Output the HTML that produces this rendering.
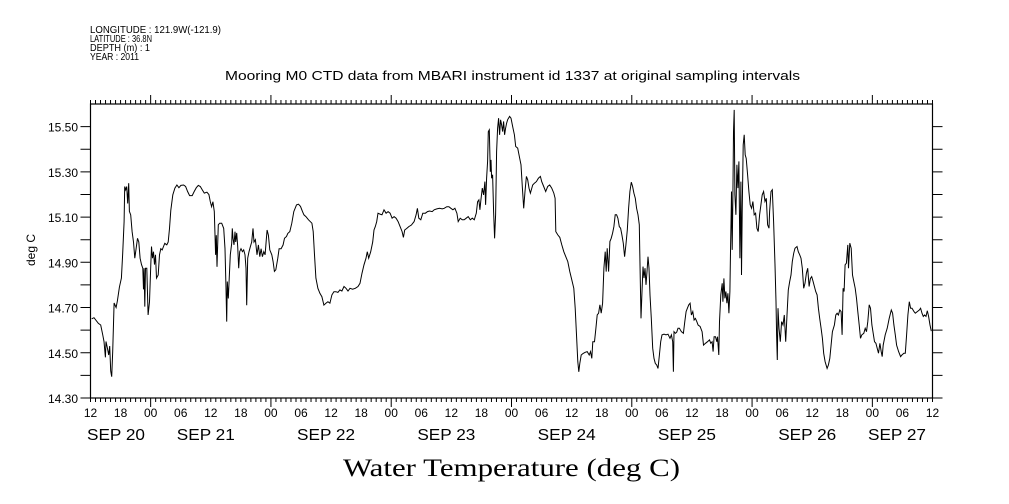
<!DOCTYPE html>
<html><head><meta charset="utf-8"><style>
body{margin:0;background:#fff;}
svg{display:block;font-family:"Liberation Sans",sans-serif;}
</style></head><body>
<svg id="chart" width="1009" height="504" viewBox="0 0 1009 504" xmlns="http://www.w3.org/2000/svg">
<rect x="0" y="0" width="1009" height="504" fill="#fff"/>
<g font-size="10.5" fill="#000">
<text x="90" y="33" textLength="131" lengthAdjust="spacingAndGlyphs">LONGITUDE : 121.9W(-121.9)</text>
<text x="90" y="42" textLength="62" lengthAdjust="spacingAndGlyphs">LATITUDE : 36.8N</text>
<text x="90" y="51" textLength="60" lengthAdjust="spacingAndGlyphs">DEPTH (m) : 1</text>
<text x="90" y="60" textLength="49" lengthAdjust="spacingAndGlyphs">YEAR : 2011</text>
</g>
<text x="225" y="80" textLength="575" lengthAdjust="spacingAndGlyphs" font-size="13">Mooring M0 CTD data from MBARI instrument id 1337 at original sampling intervals</text>
<text transform="translate(35,250) rotate(-90)" text-anchor="middle" font-size="12">deg C</text>
<text x="343" y="476" textLength="337" lengthAdjust="spacingAndGlyphs" font-family="'Liberation Serif',serif" font-size="25">Water Temperature (deg C)</text>
<g id="axes"></g>
<g id="series"></g>
</svg>
<script>
const hours=[0.23,0.7,1.57,2.03,2.43,2.7,2.97,3.1,3.37,3.63,3.83,4.03,4.23,4.43,4.7,5.1,5.37,5.77,6.17,6.43,6.7,6.83,7.03,7.23,7.43,7.63,7.77,8.03,8.3,8.57,8.83,9.1,9.37,9.63,9.9,10.17,10.43,10.57,10.7,10.83,10.97,11.23,11.5,11.77,12.03,12.17,12.37,12.57,12.77,12.97,13.17,13.5,13.77,14.03,14.3,14.57,14.83,15.23,15.5,15.77,16.03,16.43,16.83,17.23,17.63,18.03,18.57,18.97,19.37,19.77,20.3,20.7,21.1,21.5,21.9,22.3,22.7,23.23,23.63,23.9,24.17,24.43,24.7,24.97,25.1,25.23,25.5,25.77,26.17,26.57,26.83,27.03,27.17,27.3,27.5,27.7,27.9,28.17,28.3,28.43,28.63,28.83,28.97,29.17,29.37,29.57,29.77,30.03,30.3,30.57,30.83,31.03,31.17,31.37,31.63,31.9,32.17,32.43,32.63,32.9,33.23,33.5,33.77,34.03,34.3,34.57,34.83,35.1,35.23,35.5,35.77,36.17,36.43,36.7,36.97,37.37,37.63,38.03,38.43,38.7,39.1,39.37,39.77,40.17,40.57,41.1,41.5,41.9,42.3,42.57,42.97,43.5,44.17,44.43,44.7,44.97,45.37,45.77,46.17,46.57,46.97,47.37,47.77,48.17,48.57,48.97,49.37,49.77,50.17,50.57,50.97,51.37,51.77,52.3,52.83,53.37,53.77,54.17,54.57,54.97,55.23,55.5,55.9,56.3,56.57,56.83,57.1,57.37,57.77,58.17,58.57,58.97,59.37,59.77,60.17,60.57,60.97,61.37,61.77,62.17,62.43,62.7,63.1,63.5,64.03,64.57,64.97,65.23,65.5,65.9,66.3,66.83,67.23,67.63,68.17,68.57,69.1,69.63,70.17,70.57,71.1,71.5,71.9,72.3,72.7,73.1,73.37,73.77,74.17,74.57,74.97,75.37,75.77,76.17,76.57,76.97,77.23,77.5,77.7,77.9,78.17,78.43,78.7,78.83,79.03,79.23,79.37,79.57,79.77,79.9,80.03,80.23,80.43,80.63,80.83,81.03,81.23,81.43,81.63,81.83,82.03,82.23,82.43,82.63,82.83,83.03,83.23,83.63,83.9,84.3,84.57,84.83,85.23,85.63,85.9,86.17,86.43,86.7,86.97,87.23,87.5,87.77,88.23,88.57,88.97,89.37,89.77,90.03,90.43,90.83,91.23,91.63,92.03,92.43,92.7,92.83,93.23,93.63,94.03,94.43,94.83,95.23,95.63,96.03,96.43,96.7,96.97,97.23,97.43,97.63,97.9,98.3,98.7,99.1,99.5,99.77,100.03,100.23,100.57,100.83,101.1,101.37,101.63,101.9,102.17,102.43,102.7,102.9,103.1,103.37,103.63,103.9,104.17,104.43,104.7,104.97,105.23,105.5,105.77,106.03,106.3,106.57,106.83,107.1,107.37,107.63,107.9,108.17,108.43,108.7,108.97,109.23,109.5,109.63,109.83,110.03,110.23,110.43,110.63,110.83,111.03,111.23,111.43,111.63,111.9,112.17,112.43,112.7,112.97,113.23,113.5,113.77,114.03,114.43,114.83,115.23,115.63,115.9,116.17,116.3,116.43,116.7,116.97,117.23,117.5,117.9,118.3,118.57,118.83,119.1,119.37,119.63,119.9,120.17,120.43,120.7,120.97,121.23,121.63,122.03,122.3,122.7,123.1,123.5,123.77,124.03,124.23,124.43,124.7,124.97,125.1,125.37,125.5,125.77,126.03,126.17,126.37,126.57,126.77,126.97,127.17,127.37,127.57,127.7,127.83,127.9,128.03,128.17,128.3,128.43,128.57,128.77,128.97,129.17,129.37,129.57,129.77,129.9,130.03,130.23,130.43,130.63,130.83,131.1,131.37,131.63,131.9,132.17,132.43,132.7,132.97,133.23,133.5,133.77,134.03,134.3,134.57,134.83,135.1,135.37,135.5,135.77,136.03,136.3,136.57,136.77,136.9,137.03,137.17,137.37,137.63,137.9,138.17,138.43,138.7,138.97,139.23,139.5,139.77,140.03,140.3,140.57,140.97,141.23,141.5,141.77,142.03,142.3,142.57,142.83,143.1,143.37,143.63,143.9,144.17,144.43,144.7,144.97,145.23,145.5,145.77,146.03,146.3,146.57,146.97,147.23,147.5,147.77,148.03,148.43,148.7,148.97,149.23,149.5,149.77,149.97,150.17,150.37,150.57,150.83,151.1,151.23,151.5,151.77,152.03,152.3,152.57,152.83,153.1,153.37,153.63,153.9,154.3,154.57,154.83,155.1,155.37,155.63,155.9,156.17,156.43,156.7,156.97,157.23,157.5,157.77,157.97,158.17,158.57,158.97,159.37,159.77,160.03,160.3,160.57,160.83,161.23,161.63,161.9,162.3,162.57,162.83,163.1,163.37,163.63,163.9,164.3,164.57,164.97,165.37,165.63,165.9,166.17,166.43,166.7,166.97,167.23,167.5,167.77];
const temps=[14.65,14.655,14.63,14.623,14.58,14.55,14.48,14.55,14.52,14.49,14.53,14.42,14.394,14.505,14.72,14.70,14.73,14.79,14.83,14.94,15.08,15.235,15.22,15.235,15.16,15.25,15.125,15.11,15.036,14.99,14.918,14.96,15.006,14.99,14.918,14.89,14.874,14.78,14.874,14.704,14.874,14.874,14.667,14.726,14.89,14.97,14.918,14.947,14.89,14.933,14.83,14.844,14.933,14.96,14.955,14.97,14.984,14.977,14.99,15.05,15.13,15.198,15.228,15.242,15.23,15.24,15.242,15.235,15.213,15.195,15.195,15.213,15.23,15.24,15.235,15.22,15.206,15.21,15.2,15.168,15.146,15.168,15.124,14.933,15.02,14.88,15.066,15.073,15.073,15.05,14.96,14.785,14.638,14.815,14.74,14.837,14.933,14.984,15.05,15.006,14.977,15.036,14.99,15.03,14.97,14.874,14.947,14.96,14.947,14.955,14.933,14.874,14.71,14.918,14.947,14.97,14.99,15.05,14.99,15.0,14.933,14.977,14.925,14.96,14.925,14.947,14.933,15.006,15.043,15.02,14.955,14.933,14.903,14.86,14.867,14.918,14.96,14.96,14.977,15.006,15.014,15.028,15.036,15.073,15.124,15.154,15.157,15.147,15.124,15.11,15.102,15.088,15.073,15.036,14.933,14.83,14.785,14.763,14.748,14.711,14.719,14.726,14.719,14.756,14.77,14.77,14.767,14.778,14.773,14.793,14.785,14.773,14.785,14.781,14.785,14.793,14.807,14.852,14.889,14.918,14.947,14.918,14.947,14.99,15.043,15.058,15.08,15.117,15.113,15.11,15.132,15.117,15.124,15.117,15.095,15.102,15.095,15.08,15.058,15.036,15.01,15.043,15.05,15.058,15.065,15.08,15.11,15.139,15.095,15.088,15.117,15.117,15.124,15.127,15.124,15.132,15.136,15.139,15.136,15.139,15.146,15.146,15.139,15.132,15.139,15.117,15.08,15.095,15.088,15.088,15.095,15.102,15.088,15.095,15.088,15.117,15.168,15.176,15.132,15.176,15.228,15.198,15.257,15.154,15.272,15.346,15.478,15.486,15.3,15.353,15.272,15.287,15.124,15.006,15.11,15.39,15.493,15.537,15.464,15.53,15.508,15.478,15.523,15.464,15.493,15.515,15.53,15.545,15.537,15.493,15.464,15.412,15.405,15.36,15.331,15.228,15.139,15.213,15.28,15.265,15.228,15.206,15.242,15.25,15.257,15.272,15.28,15.257,15.235,15.213,15.235,15.242,15.228,15.206,15.183,15.036,15.021,15.01,14.977,14.947,14.925,14.903,14.859,14.822,14.785,14.697,14.579,14.461,14.416,14.453,14.49,14.497,14.502,14.505,14.49,14.505,14.475,14.549,14.549,14.608,14.667,14.675,14.712,14.675,14.719,14.874,14.947,14.859,14.962,14.859,14.992,15.006,15.029,15.058,15.11,15.11,15.095,15.058,15.051,15.021,14.984,14.925,14.977,15.043,15.139,15.213,15.254,15.235,15.206,15.183,15.139,15.11,15.066,14.889,14.652,14.771,14.881,14.83,14.874,14.8,14.859,14.925,14.874,14.756,14.652,14.52,14.475,14.453,14.446,14.431,14.49,14.549,14.579,14.582,14.579,14.582,14.564,14.579,14.549,14.416,14.593,14.586,14.591,14.608,14.608,14.593,14.586,14.638,14.682,14.697,14.712,14.719,14.667,14.682,14.645,14.652,14.638,14.623,14.616,14.593,14.534,14.542,14.549,14.557,14.542,14.549,14.505,14.571,14.571,14.549,14.571,14.49,14.638,14.756,14.807,14.726,14.829,14.741,14.771,14.719,14.763,14.675,14.771,14.947,15.124,15.213,14.955,15.198,15.478,15.574,15.198,15.11,15.331,15.228,15.346,14.918,15.257,14.844,15.124,15.419,15.464,15.375,15.36,15.287,15.213,15.154,15.139,15.169,15.11,15.117,15.051,15.036,15.11,15.154,15.198,15.213,15.169,15.183,15.066,15.051,15.124,15.213,15.221,15.08,14.889,14.726,14.579,14.468,14.697,14.608,14.549,14.638,14.623,14.667,14.549,14.667,14.778,14.815,14.844,14.903,14.94,14.962,14.97,14.947,14.933,14.918,14.874,14.785,14.807,14.852,14.874,14.793,14.829,14.837,14.815,14.793,14.771,14.756,14.697,14.652,14.608,14.564,14.497,14.461,14.431,14.446,14.475,14.534,14.593,14.623,14.667,14.675,14.667,14.689,14.682,14.579,14.785,14.771,14.889,14.896,14.977,14.874,14.985,14.962,14.844,14.815,14.785,14.741,14.682,14.623,14.564,14.579,14.586,14.608,14.593,14.638,14.712,14.697,14.623,14.586,14.549,14.542,14.52,14.498,14.542,14.505,14.483,14.534,14.579,14.608,14.652,14.689,14.675,14.623,14.579,14.534,14.505,14.483,14.49,14.498,14.498,14.579,14.667,14.726,14.697,14.697,14.682,14.675,14.682,14.689,14.697,14.675,14.661,14.667,14.661,14.686,14.661,14.623,14.596];
const yTickValues=[14.3,14.4,14.5,14.6,14.7,14.8,14.9,15.0,15.1,15.2,15.3,15.4,15.5];
const yTickLabels=["14.30","14.50","14.70","14.90","15.10","15.30","15.50"];
const hourLabels=["12","18","00","06"];
const dayLabels=["SEP 20","SEP 21","SEP 22","SEP 23","SEP 24","SEP 25","SEP 26","SEP 27"];

const NS="http://www.w3.org/2000/svg";
const L=90.5,R=932.5,T=104,B=398;
const H0=0,H1=168,Y0=14.3,Y1=15.6;
function xs(h){return L+(h-H0)/(H1-H0)*(R-L);}
function ys(v){return B-(v-Y0)/(Y1-Y0)*(B-T);}
function mk(tag,attrs,parent){const e=document.createElementNS(NS,tag);for(const k in attrs)e.setAttribute(k,attrs[k]);parent.appendChild(e);return e;}
const axes=document.getElementById('axes');
const frame=mk('rect',{x:L,y:T,width:R-L,height:B-T,fill:'none',stroke:'#000','stroke-width':1.2},axes);


let d='';
for(let h=0;h<=168;h++){
  const x=xs(h);const major=((h+12)%24===0);const len=major?9:4;
  d+=`M${x},${T}V${T-len}M${x},${B}V${B+len}`;
}
yTickValues.forEach(v=>{const y=ys(v);d+=`M${L},${y}H${L-10}M${R},${y}H${R+10}`;});
const ticks=mk('path',{d:d,stroke:'#000','stroke-width':1,fill:'none'},axes);


yTickLabels.forEach(s=>{
  const t=mk('text',{x:78,y:ys(parseFloat(s))+5,'text-anchor':'end','font-size':12},axes);
  t.textContent=s;
  
  
});
for(let i=0;i*6<=168;i++){
  const t=mk('text',{x:xs(i*6),y:417,'text-anchor':'middle','font-size':12},axes);
  t.textContent=hourLabels[i%4];
  
  
}
dayLabels.forEach((s,i)=>{
  let cx=xs(i*24)-34;
  if(i===0){cx=87;}
  if(i===dayLabels.length-1){cx=868;}
  const t=mk('text',{x:cx,y:440,'font-size':15.5,textLength:58,lengthAdjust:'spacingAndGlyphs'},axes);
  t.textContent=s;
  
  
});
const series=document.getElementById('series');
let p='';
hours.forEach((h,i)=>{p+=(i?'L':'M')+xs(h).toFixed(1)+','+ys(temps[i]).toFixed(1);});
const line=mk('path',{d:p,fill:'none',stroke:'#000','stroke-width':1,'stroke-linejoin':'miter'},series);


</script>
</body></html>
